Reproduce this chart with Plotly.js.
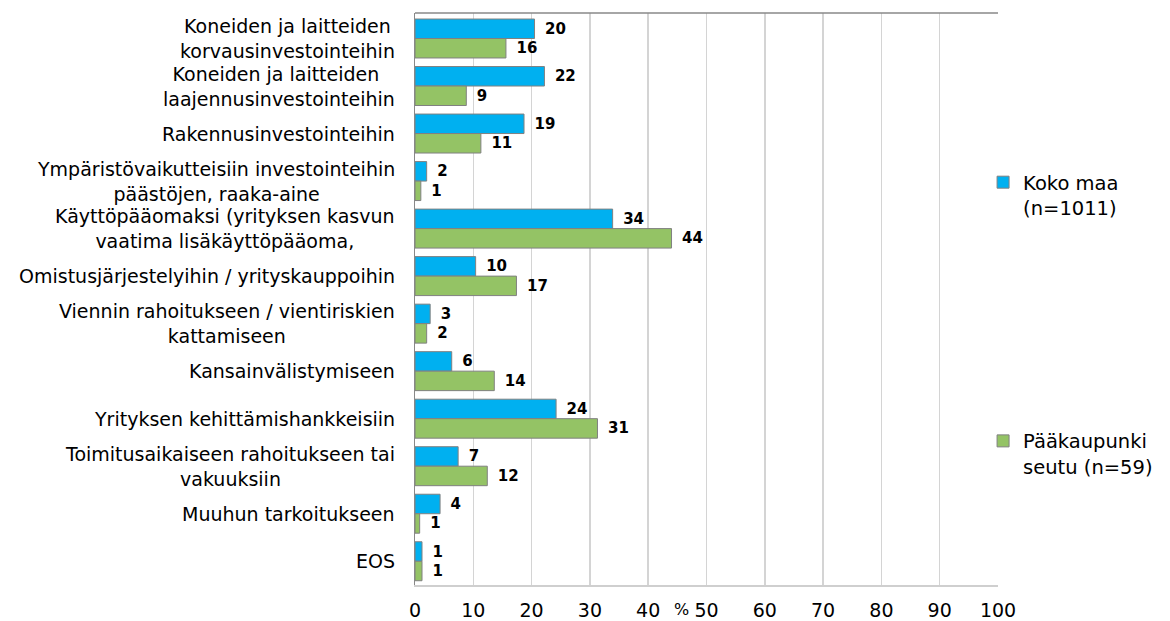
<!DOCTYPE html>
<html>
<head>
<meta charset="utf-8">
<script src="https://cdn.plot.ly/plotly-3.0.1.min.js"></script>
<style>html,body{margin:0;padding:0;background:#fff;}#chart{width:1170px;height:621px;}</style>
</head>
<body>
<div id="chart"></div>
<script>
const categories = [
  "Koneiden ja laitteiden<br>korvausinvestointeihin",
  "Koneiden ja laitteiden <br>laajennusinvestointeihin",
  "Rakennusinvestointeihin",
  "Ympäristövaikutteisiin investointeihin<br>päästöjen, raaka-aine",
  "Käyttöpääomaksi (yrityksen kasvun<br>vaatima lisäkäyttöpääoma,",
  "Omistusjärjestelyihin / yrityskauppoihin",
  "Viennin rahoitukseen / vientiriskien<br>kattamiseen",
  "Kansainvälistymiseen",
  "Yrityksen kehittämishankkeisiin",
  "Toimitusaikaiseen rahoitukseen tai<br>vakuuksiin",
  "Muuhun tarkoitukseen",
  "EOS"
];
const kokoMaaValues = [20.5, 22.2, 18.7, 2.0, 33.9, 10.4, 2.6, 6.3, 24.2, 7.4, 4.3, 1.2];
const kokoMaaLabels = [20, 22, 19, 2, 34, 10, 3, 6, 24, 7, 4, 1];
const paakaupunkiValues = [15.6, 8.8, 11.3, 1.0, 44.0, 17.4, 2.0, 13.6, 31.3, 12.4, 0.8, 1.2];
const paakaupunkiLabels = [16, 9, 11, 1, 44, 17, 2, 14, 31, 12, 1, 1];
const seriesNames = ["Koko maa<br>(n=1011)", "Pääkaupunki<br>seutu (n=59)"];
const xTicks = [0, 10, 20, 30, 40, 50, 60, 70, 80, 90, 100];

const FONT = "DejaVu Sans, Liberation Sans, Arial, sans-serif";
const pad = "\u2002";

const traces = [
  {
    type: "bar", orientation: "h", name: seriesNames[0], legendgroup: "a",
    y: categories, x: kokoMaaValues,
    text: kokoMaaLabels.map(v => pad + v), textposition: "outside",
    textfont: {family: FONT, size: 15, color: "#000", weight: "bold"},
    constraintext: "none", cliponaxis: false,
    marker: {color: "#00B0F0", line: {color: "#808080", width: 1}},
    hoverinfo: "skip"
  },
  {
    type: "bar", orientation: "h", name: seriesNames[1], legendgroup: "b",
    y: categories, x: paakaupunkiValues,
    text: paakaupunkiLabels.map(v => pad + v), textposition: "outside",
    textfont: {family: FONT, size: 15, color: "#000", weight: "bold"},
    constraintext: "none", cliponaxis: false,
    marker: {color: "#94C365", line: {color: "#808080", width: 1}},
    hoverinfo: "skip"
  }
];

const L = 415, R = 1001, T = 13, B = 585;
const annotations = categories.map(c => ({
  xref: "paper", yref: "y", x: (397 - L) / (R - L), y: c,
  xanchor: "right", yanchor: "middle", align: "center",
  text: c, showarrow: false,
  font: {family: FONT, size: 19, color: "#000"}
}));
annotations.push({
  xref: "paper", yref: "paper", x: (683 - L) / (R - L), y: (B - 598) / (B - T),
  xanchor: "center", yanchor: "top", text: "%", showarrow: false,
  font: {family: FONT, size: 16, color: "#000"}
});

const layout = {
  width: 1170, height: 621,
  margin: {l: L, r: 1170 - R, t: T, b: 621 - B, pad: 0},
  paper_bgcolor: "#fff", plot_bgcolor: "#fff",
  barmode: "group", bargap: 0.18, bargroupgap: 0,
  font: {family: FONT, size: 19, color: "#000"},
  xaxis: {
    range: [0, 100], tickvals: xTicks, ticktext: xTicks.map(String),
    showgrid: true, gridcolor: "#d4d4d4", gridwidth: 1.5,
    zeroline: false, showline: true, linecolor: "#cfcfcf", linewidth: 1.5,
    ticks: "", ticklabelstandoff: 8,
    tickfont: {family: FONT, size: 19, color: "#000"},
    fixedrange: true
  },
  yaxis: {
    type: "category", autorange: "reversed",
    showticklabels: false, showgrid: false, zeroline: false,
    showline: true, linecolor: "#888", linewidth: 1.5, ticks: "",
    fixedrange: true
  },
  shapes: [
    {type: "line", xref: "paper", yref: "paper", x0: 0, x1: 1, y0: 1, y1: 1,
     line: {color: "#888", width: 1.5}}
  ],
  showlegend: true,
  legend: {
    x: (986 - L) / (R - L), xanchor: "left",
    y: (B - 163) / (B - T), yanchor: "top",
    traceorder: "grouped", tracegroupgap: 205, valign: "top",
    font: {family: FONT, size: 19.5, color: "#000"},
    bgcolor: "rgba(0,0,0,0)", borderwidth: 0
  },
  annotations: annotations
};

Plotly.newPlot("chart", traces, layout, {displayModeBar: false, staticPlot: true});
</script>
</body>
</html>
